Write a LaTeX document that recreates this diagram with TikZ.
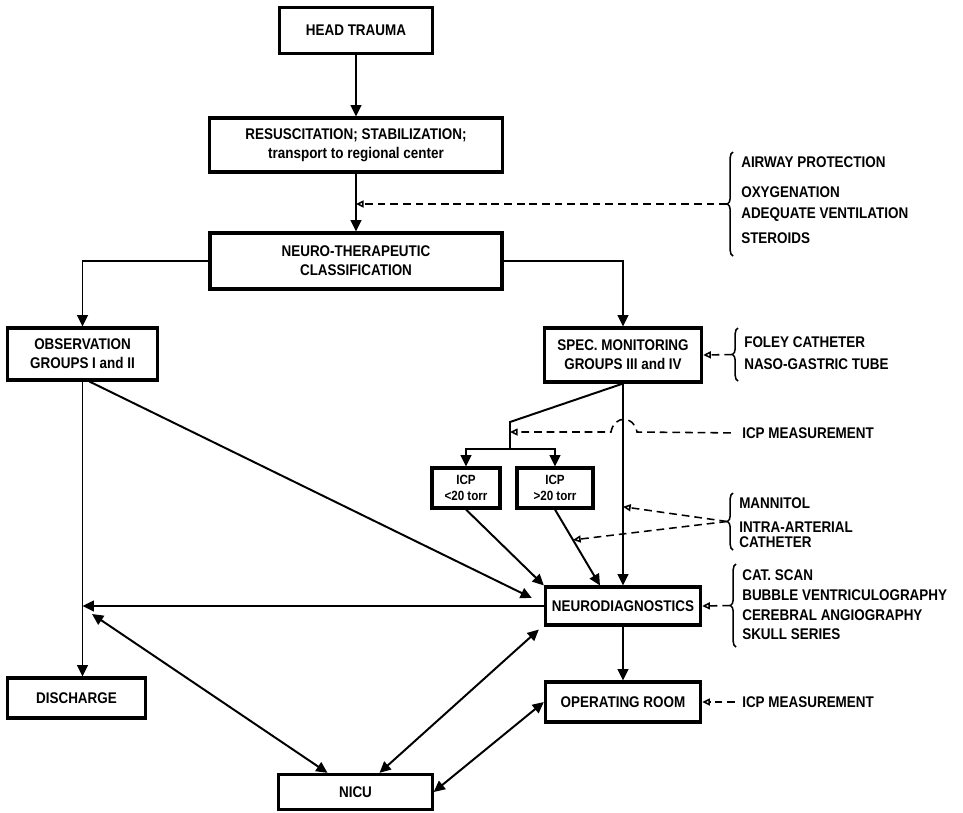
\documentclass[tikz,border=0pt]{standalone}
\usepackage{fontspec}
\setmainfont[FakeStretch=0.87]{Liberation Sans}
\usetikzlibrary{arrows.meta,calc,decorations.pathreplacing}

\begin{document}
\begin{tikzpicture}[x=0.025cm,y=-0.025cm]
        \tikzstyle{box} = [draw,line width=2.2pt,align=center,inner sep=0pt,font=\bfseries\fontsize{11}{13.5}\selectfont]
        \tikzstyle{note} = [anchor=west,inner sep=0pt,font=\bfseries\fontsize{11}{12}\selectfont]
        \tikzstyle{arrow} = [line width=1.4pt,-{Triangle[length=8pt,width=7.5pt]}]
        \tikzstyle{both} = [line width=1.4pt,{Triangle[length=8pt,width=7.5pt]}-{Triangle[length=8pt,width=7.5pt]}]
        \tikzstyle{hint} = [line width=1.1pt,dash pattern=on 5.5pt off 3.5pt,-{Triangle[open,length=5.5pt,width=5pt]}]
        \tikzstyle{curly} = [line width=1.1pt,decorate,decoration={brace,amplitude=4pt}]

        \useasboundingbox (0,0) rectangle (963,812);

        % main chain
        \node[box,minimum width=3.83cm,minimum height=1.13cm] (head) at (356,30.5) {HEAD TRAUMA};
        \node[box,minimum width=7.33cm,minimum height=1.35cm] (resus) at (356,145) {RESUSCITATION; STABILIZATION;\\ transport to regional center};
        \node[box,minimum width=7.3cm,minimum height=1.4cm] (neuro) at (356,261) {NEURO-THERAPEUTIC\\ CLASSIFICATION};
        \node[box,minimum width=3.73cm,minimum height=1.3cm] (obs) at (82.5,354) {OBSERVATION\\ GROUPS I and II};
        \node[box,minimum width=3.93cm,minimum height=1.35cm] (spec) at (623,355) {SPEC. MONITORING\\ GROUPS III and IV};
        \node[box,minimum width=1.7cm,minimum height=1cm,font=\bfseries\fontsize{9.5}{11.5}\selectfont] (icplo) at (466,488) {ICP\\ <20 torr};
        \node[box,minimum width=1.9cm,minimum height=1cm,font=\bfseries\fontsize{9.5}{11.5}\selectfont] (icphi) at (555,488) {ICP\\ >20 torr};
        \node[box,minimum width=3.88cm,minimum height=0.95cm] (diag) at (623,606) {NEURODIAGNOSTICS};
        \node[box,minimum width=3.88cm,minimum height=1cm] (oroom) at (623,702) {OPERATING ROOM};
        \node[box,minimum width=3.43cm,minimum height=1cm] (disch) at (76.5,698) {DISCHARGE};
        \node[box,minimum width=3.83cm,minimum height=0.88cm] (nicu) at (355.5,792) {NICU};

        % side notes
        \node[note] (airway) at (741,162) {AIRWAY PROTECTION};
        \node[note] (oxy) at (741,192) {OXYGENATION};
        \node[note] (vent) at (741,215) {ADEQUATE VENTILATION};
        \node[note] (ster) at (741,238) {STEROIDS};
        \node[note] (foley) at (744,342) {FOLEY CATHETER};
        \node[note] (naso) at (744,364) {NASO-GASTRIC TUBE};
        \node[note] (icpm) at (742,433) {ICP MEASUREMENT};
        \node[note] (mann) at (739,503) {MANNITOL};
        \node[note] (intra) at (739,527) {INTRA-ARTERIAL};
        \node[note] (cath) at (739,542) {CATHETER};
        \node[note] (cat) at (742,575) {CAT. SCAN};
        \node[note] (bubble) at (742,595) {BUBBLE VENTRICULOGRAPHY};
        \node[note] (angio) at (742,615) {CEREBRAL ANGIOGRAPHY};
        \node[note] (skull) at (742,634) {SKULL SERIES};
        \node[note] (icpor) at (742,702) {ICP MEASUREMENT};

        % braces
        \draw[curly] (733,256) -- (733,152);
        \draw[curly] (738,381) -- (738,328);
        \draw[curly] (733,550) -- (733,493);
        \draw[curly] (736,647) -- (736,564);
        \coordinate (airtip) at (727,204);
        \coordinate (foleytip) at (732,354.5);
        \coordinate (manntip) at (727,521.5);
        \coordinate (cattip) at (730,605.5);

        % split towards ICP boxes
        \coordinate (split) at (510,422);
        \coordinate (splitlow) at (510,449);
        \coordinate (splittip) at (510,432);
        \coordinate (icpin) at ($(diag.north)+(-23,0)$);
        \coordinate (obsback) at (92,614);

        \draw[arrow] (head) -- (resus);
        \draw[arrow] (resus) -- (neuro);
        \draw[arrow] (neuro.west) -| (obs.north);
        \draw[arrow] (neuro.east) -| (spec.north);
        \draw[line width=1.4pt] (spec.south) -- (split) -- (splitlow);
        \draw[arrow] (splitlow) -| (icplo.north);
        \draw[arrow] (splitlow) -| (icphi.north);
        \draw[arrow] (spec.south) -- (diag.north);
        \draw[arrow] (icplo.south) -- (diag.north west);
        \draw[arrow] (icphi.south) -- (icpin);
        \draw[arrow] ($(obs.south)+(7,0)$) -- ($(diag.west)+(-12,-8)$);
        \draw[arrow] (diag.west) -- (diag.west -| obs.south);
        \draw[arrow] (obs.south) -- (obs.south |- disch.north);
        \draw[arrow] (diag) -- (oroom);
        \draw[both] (obsback) -- ($(nicu.north)+(-28,0)$);
        \draw[both] ($(diag.south west)+(-5,3)$) -- ($(nicu.north)+(24,0)$);
        \draw[both] (oroom.west) -- (nicu.east);

        % dashed hints
        \draw[hint] (airtip) -- (airtip -| resus.south);
        \draw[hint] (foleytip) -- (spec.east);
        \draw[hint,shorten <=8pt] (icpm.west) -- (637,432) .. controls (634,415) and (614,415) .. (611,432) -- (splittip);
        \draw[hint] (manntip) -- ($(spec.south)!0.61!(diag.north)$);
        \draw[hint] (manntip) -- ($(icphi.south)!0.4!(icpin)$);
        \draw[hint] (cattip) -- (diag.east);
        \draw[hint,shorten <=5pt] (icpor.west) -- (oroom.east);
    \end{tikzpicture}
\end{document}
